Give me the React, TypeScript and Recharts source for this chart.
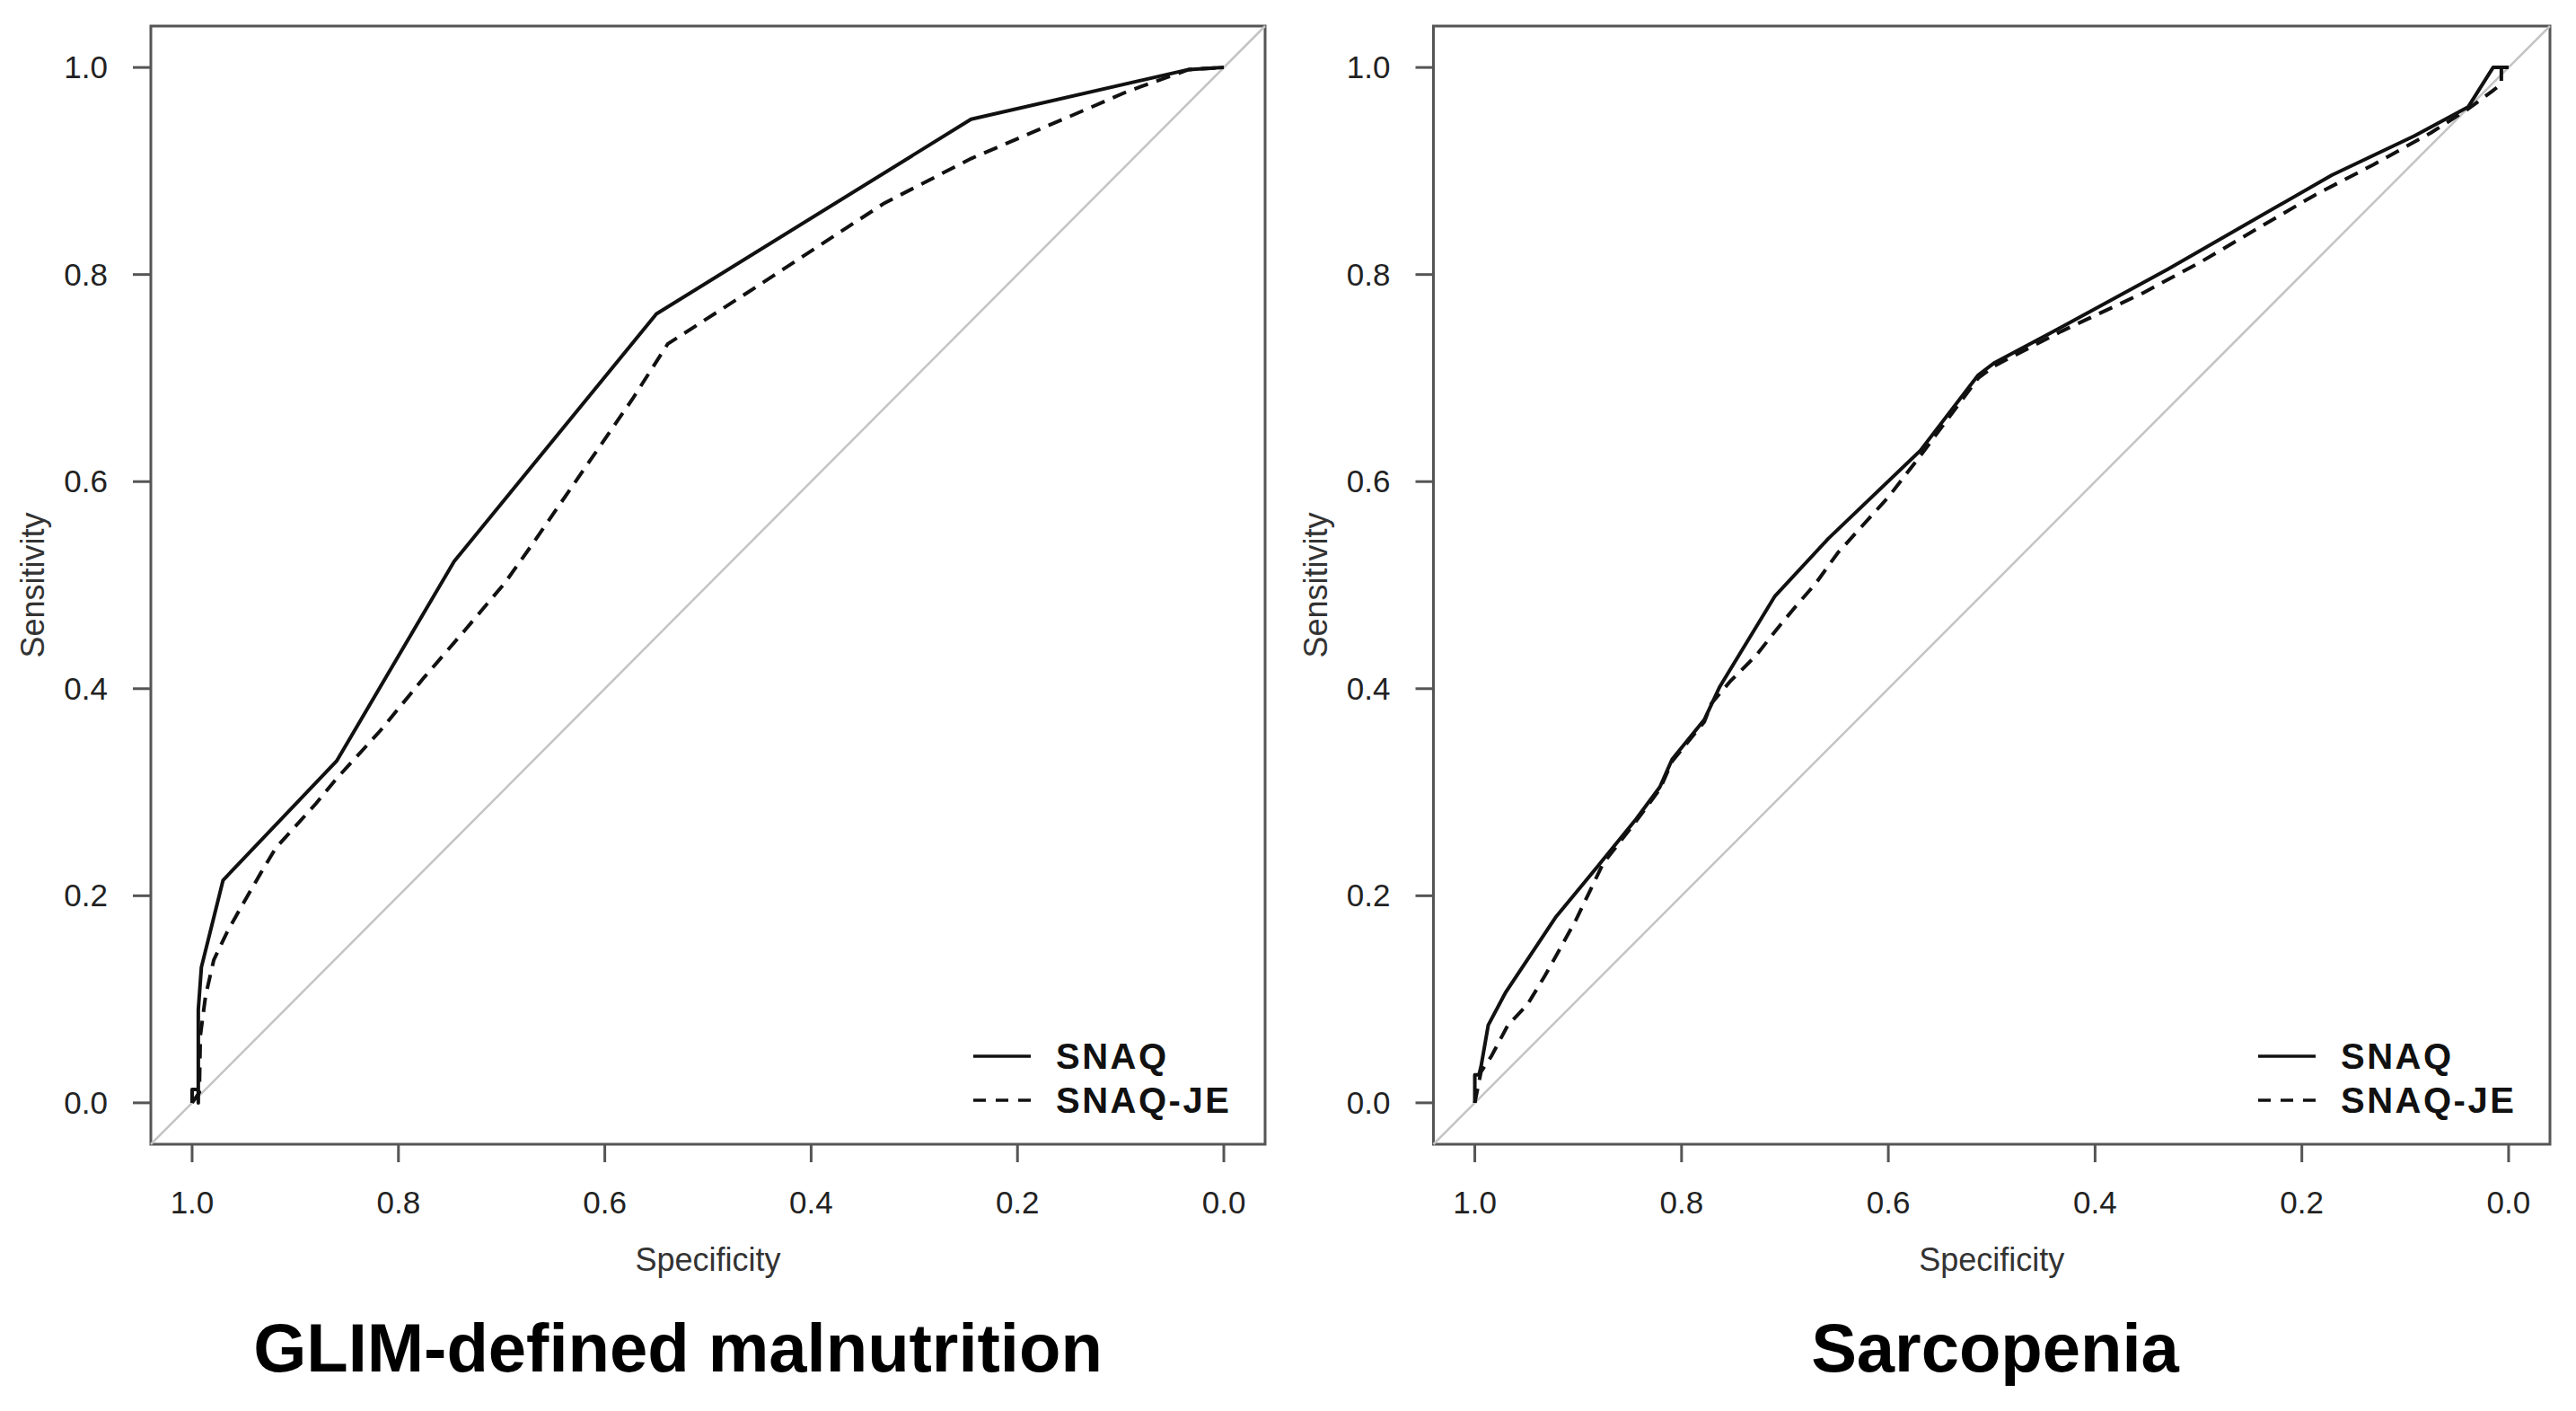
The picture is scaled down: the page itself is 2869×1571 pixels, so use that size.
import React from 'react';
import { LineChart, Line, XAxis, YAxis, ReferenceLine, ReferenceArea } from 'recharts';

const FONT = '"Liberation Sans", Arial, Helvetica, sans-serif';

// axis ticks (pROC style: specificity runs 1 -> 0)
const specTicks = [1, 0.8, 0.6, 0.4, 0.2, 0];
const sensTicks = [0, 0.2, 0.4, 0.6, 0.8, 1];
const axisDomain = [-0.04, 1.04];

const seriesNames = ['SNAQ', 'SNAQ-JE'];
const panelTitles = ['GLIM-defined malnutrition', 'Sarcopenia'];

// GLIM-defined malnutrition
const glimSnaqSpec = [1, 1, 0.994, 0.994, 0.994, 0.991, 0.97, 0.86, 0.746, 0.55, 0.245, 0.034, 0];
const glimSnaqSens = [0, 0.013, 0.013, 0, 0.09, 0.131, 0.215, 0.33, 0.523, 0.762, 0.95, 0.998, 1];
const glimJeSpec = [1, 0.993, 0.992, 0.987, 0.979, 0.966, 0.952, 0.934, 0.919, 0.88, 0.861, 0.818, 0.775, 0.736, 0.697, 0.672, 0.573, 0.539, 0.461, 0.329, 0.245, 0.137, 0.093, 0.034, 0];
const glimJeSens = [0, 0.01, 0.065, 0.103, 0.138, 0.165, 0.19, 0.221, 0.246, 0.289, 0.312, 0.359, 0.411, 0.456, 0.502, 0.537, 0.68, 0.733, 0.783, 0.869, 0.912, 0.958, 0.977, 0.998, 1];

// Sarcopenia
const sarcSnaqSpec = [1, 1, 0.996, 0.994, 0.987, 0.97, 0.922, 0.879, 0.844, 0.821, 0.809, 0.778, 0.763, 0.71, 0.658, 0.569, 0.513, 0.497, 0.433, 0.33, 0.171, 0.091, 0.039, 0.015, 0];
const sarcSnaqSens = [0, 0.027, 0.027, 0.035, 0.075, 0.107, 0.179, 0.231, 0.274, 0.305, 0.332, 0.37, 0.402, 0.489, 0.545, 0.63, 0.703, 0.715, 0.749, 0.805, 0.896, 0.934, 0.962, 1, 1];
const sarcJeSpec = [1, 0.994, 0.984, 0.968, 0.949, 0.932, 0.918, 0.902, 0.887, 0.876, 0.844, 0.821, 0.809, 0.778, 0.771, 0.753, 0.728, 0.709, 0.69, 0.67, 0.649, 0.6, 0.569, 0.513, 0.497, 0.433, 0.354, 0.298, 0.242, 0.187, 0.131, 0.075, 0.039, 0.016, 0.007, 0.007, 0];
const sarcJeSens = [0, 0.03, 0.045, 0.075, 0.095, 0.123, 0.148, 0.177, 0.208, 0.231, 0.272, 0.303, 0.33, 0.368, 0.386, 0.407, 0.432, 0.456, 0.479, 0.502, 0.531, 0.585, 0.625, 0.7, 0.712, 0.745, 0.782, 0.812, 0.845, 0.877, 0.906, 0.937, 0.96, 0.977, 0.984, 1, 1];

const zip = (spec: number[], sens: number[]) => spec.map((s, i) => ({ spec: s, sens: sens[i] }));

const XTick = (props: any) => (
  <text x={props.x} y={props.y} dy={57} textAnchor="middle" fontSize={35} fill="#222" fontFamily={FONT}>
    {Number(props.payload.value).toFixed(1)}
  </text>
);

const YTick = (props: any) => (
  <text x={props.x} y={props.y} dy={12} textAnchor="end" fontSize={35} fill="#222" fontFamily={FONT}>
    {Number(props.payload.value).toFixed(1)}
  </text>
);

function Panel({ left, marginLeft, title, titleCenter, snaq, je }: any) {
  return (
    <div style={{ position: 'absolute', left, top: 0, width: 1435, height: 1571 }}>
      <LineChart width={1435} height={1571} margin={{ top: 29, right: 26, bottom: 237, left: marginLeft }}>
        <XAxis
          type="number"
          dataKey="spec"
          domain={axisDomain}
          allowDataOverflow
          reversed
          ticks={specTicks}
          interval={0}
          height={60}
          tickSize={20}
          tickMargin={0}
          axisLine={false}
          tickLine={{ stroke: '#555', strokeWidth: 3 }}
          tick={<XTick />}
          label={(p: any) => {
            const vb = p.viewBox || { x: 168, y: 1274, width: 1241 };
            return (
              <text x={vb.x + vb.width / 2} y={vb.y + 141} textAnchor="middle" fontSize={36} fill="#333" fontFamily={FONT}>
                Specificity
              </text>
            );
          }}
        />
        <YAxis
          type="number"
          dataKey="sens"
          domain={axisDomain}
          allowDataOverflow
          ticks={sensTicks}
          interval={0}
          width={80}
          tickSize={20}
          tickMargin={28}
          axisLine={false}
          tickLine={{ stroke: '#555', strokeWidth: 3 }}
          tick={<YTick />}
          label={(p: any) => {
            const vb = p.viewBox || { x: 88, y: 29, width: 80, height: 1245 };
            const x = vb.x + vb.width - 119;
            const y = vb.y + vb.height / 2;
            return (
              <text x={x} y={y} transform={`rotate(-90, ${x}, ${y})`} textAnchor="middle" fontSize={36} fill="#333" fontFamily={FONT}>
                Sensitivity
              </text>
            );
          }}
        />
        <ReferenceLine
          segment={[{ x: axisDomain[1], y: axisDomain[0] }, { x: axisDomain[0], y: axisDomain[1] }]}
          stroke="#c4c4c4"
          strokeWidth={2.5}
          ifOverflow="visible"
        />
        <Line
          data={je}
          dataKey="sens"
          type="linear"
          stroke="#111"
          strokeWidth={4}
          strokeDasharray="16 10"
          dot={false}
          activeDot={false}
          isAnimationActive={false}
        />
        <Line
          data={snaq}
          dataKey="sens"
          type="linear"
          stroke="#111"
          strokeWidth={4}
          strokeLinejoin="round"
          dot={false}
          activeDot={false}
          isAnimationActive={false}
        />
        <ReferenceArea
          x1={axisDomain[0]}
          x2={axisDomain[1]}
          y1={axisDomain[0]}
          y2={axisDomain[1]}
          fill="none"
          fillOpacity={0}
          stroke="#555"
          strokeWidth={3}
          ifOverflow="visible"
        />
      </LineChart>
      {seriesNames.map((name, i) => (
        <div
          key={name}
          style={{
            position: 'absolute',
            left: 1084,
            top: 1151 + i * 49,
            height: 50,
            display: 'flex',
            alignItems: 'center',
          }}
        >
          <svg width={64} height={8}>
            <line x1={0} y1={4} x2={64} y2={4} stroke="#111" strokeWidth={3.5} strokeDasharray={i === 1 ? '14 11' : undefined} />
          </svg>
          <span
            style={{
              marginLeft: 28,
              fontFamily: FONT,
              fontWeight: 'bold',
              fontSize: 40,
              letterSpacing: 2.5,
              lineHeight: '50px',
              color: '#111',
              whiteSpace: 'nowrap',
            }}
          >
            {name}
          </span>
        </div>
      ))}
      <div
        style={{
          position: 'absolute',
          left: titleCenter - 600,
          width: 1200,
          top: 1463,
          textAlign: 'center',
          fontFamily: FONT,
          fontWeight: 'bold',
          fontSize: 76,
          lineHeight: '76px',
          color: '#000',
          whiteSpace: 'nowrap',
        }}
      >
        {title}
      </div>
    </div>
  );
}

export default function App() {
  return (
    <div style={{ position: 'absolute', left: 0, top: 0, width: 2869, height: 1571, background: '#fff', overflow: 'hidden' }}>
      <Panel
        left={0}
        marginLeft={88}
        title={panelTitles[0]}
        titleCenter={755}
        snaq={zip(glimSnaqSpec, glimSnaqSens)}
        je={zip(glimJeSpec, glimJeSens)}
      />
      <Panel
        left={1431}
        marginLeft={85.5}
        title={panelTitles[1]}
        titleCenter={791}
        snaq={zip(sarcSnaqSpec, sarcSnaqSens)}
        je={zip(sarcJeSpec, sarcJeSens)}
      />
    </div>
  );
}
